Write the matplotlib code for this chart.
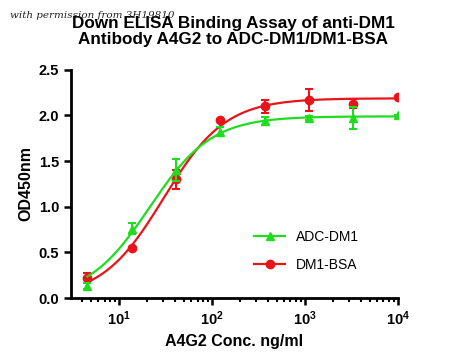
import numpy as np
import matplotlib
matplotlib.use("Agg")
import matplotlib.pyplot as plt

plt.rcParams["font.family"] = ["Liberation Sans", "DejaVu Sans"]

conc = [4.57, 13.7, 41.2, 123.5, 370.4, 1111, 3333, 10000]
adc_dm1 = [0.13, 0.76, 1.40, 1.82, 1.94, 1.97, 1.97, 2.00]
adc_err = [0.03, 0.06, 0.12, 0.05, 0.04, 0.02, 0.12, 0.01]
dm1_bsa = [0.22, 0.55, 1.30, 1.95, 2.10, 2.17, 2.13, 2.20]
bsa_err = [0.06, 0.01, 0.10, 0.01, 0.07, 0.12, 0.05, 0.01]


def fit_4pl(x, y):
    # bottom fixed at 0; grid over ec50/hill, top by least squares
    x = np.asarray(x, float)
    y = np.asarray(y, float)
    best = None
    for lec in np.linspace(0.5, 3.0, 251):
        for h in np.linspace(1.2, 1.3, 11):
            f = 1.0 / (1.0 + (10**lec / x) ** h)
            t = np.dot(f, y) / np.dot(f, f)
            r = np.sum((t * f - y) ** 2)
            if best is None or r < best[0]:
                best = (r, t, 10**lec, h)
    _, t, ec, h = best
    return lambda xx: t / (1.0 + (ec / xx) ** h)


green = "#1fdc1f"
red = "#e8141a"

fig = plt.figure(figsize=(4.5, 3.6), dpi=100)
ax = fig.add_axes([0.158, 0.172, 0.726, 0.634])

xs = np.logspace(np.log10(conc[0]), np.log10(conc[-1]), 300)

f_red = fit_4pl(conc, dm1_bsa)
ax.plot(xs, f_red(xs), color=red, lw=1.6, zorder=2)
ax.errorbar(conc, dm1_bsa, yerr=bsa_err, fmt="o", color=red, ms=6,
            capsize=3, capthick=1.5, elinewidth=1.5, zorder=3)

f_green = fit_4pl(conc, adc_dm1)
ax.plot(xs, f_green(xs), color=green, lw=1.6, zorder=4)
ax.errorbar(conc, adc_dm1, yerr=adc_err, fmt="^", color=green, ms=6,
            capsize=3, capthick=1.5, elinewidth=1.5, zorder=5)

# legend handles
h1, = ax.plot([], [], color=green, marker="^", lw=1.6, ms=6)
h2, = ax.plot([], [], color=red, marker="o", lw=1.6, ms=6)
ax.legend([h1, h2], ["ADC-DM1", "DM1-BSA"], loc="lower right",
          bbox_to_anchor=(0.92, 0.06), frameon=False, fontsize=10,
          handlelength=2.2, labelspacing=1.0)

ax.set_xscale("log")
ax.set_xlim(3.05, 10000)
ax.set_ylim(0, 2.5)
ax.set_yticks([0.0, 0.5, 1.0, 1.5, 2.0, 2.5])
ax.set_yticklabels(["0.0", "0.5", "1.0", "1.5", "2.0", "2.5"])
ax.set_xticks([10, 100, 1000, 10000])

for s in ["top", "right"]:
    ax.spines[s].set_visible(False)
for s in ["left", "bottom"]:
    ax.spines[s].set_linewidth(2)
ax.tick_params(which="major", width=1.8, length=5, labelsize=10.5)
ax.tick_params(which="minor", width=1.5, length=3)
for lab in ax.get_xticklabels() + ax.get_yticklabels():
    lab.set_fontweight("bold")

ax.set_xlabel("A4G2 Conc. ng/ml", fontsize=11.5, fontweight="bold")
ax.set_ylabel("OD450nm", fontsize=11.5, fontweight="bold")

fig.text(0.518, 0.922, "Down ELISA Binding Assay of anti-DM1",
         ha="center", va="baseline", fontsize=12.3, fontweight="bold")
fig.text(0.518, 0.878, "Antibody A4G2 to ADC-DM1/DM1-BSA",
         ha="center", va="baseline", fontsize=12.3, fontweight="bold")
fig.text(0.022, 0.95, "with permission from 3H19810", fontsize=7.5,
         style="italic", family="serif", va="baseline", color="#222222")

fig.savefig("out.png", dpi=100)
